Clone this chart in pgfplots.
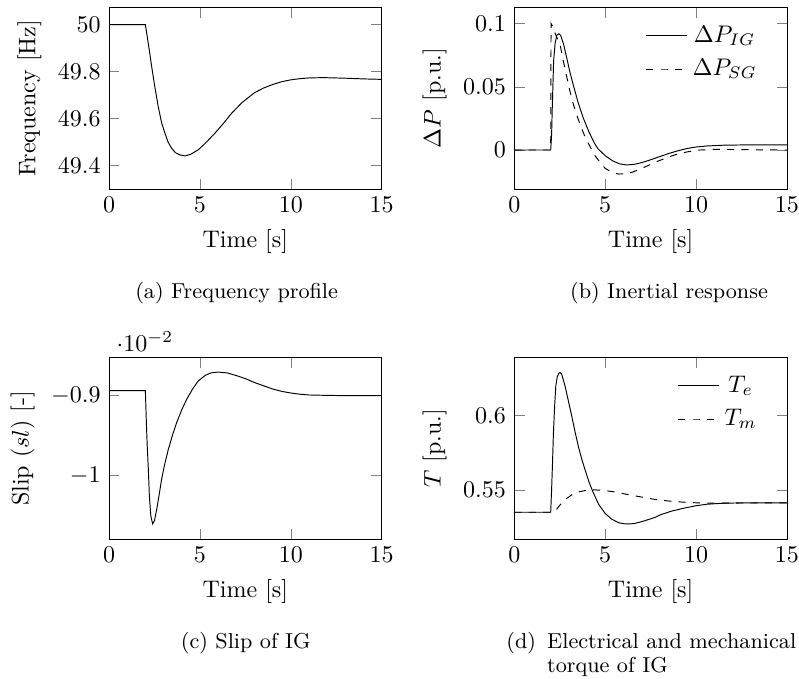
\documentclass[border=0pt]{standalone}
\usepackage{pgfplots}
\pgfplotsset{compat=1.18}
\begin{document}
\begin{tikzpicture}
\path[use as bounding box] (0,0) rectangle (332.9pt,282.5pt);
\pgfplotsset{every axis/.append style={scale only axis, anchor=south west,
  xmin=0, xmax=15, xtick={0,5,10,15}, xlabel={Time [s]},
  width=113.6pt, height=75.6pt},
  every axis legend/.append style={draw=none, fill=none, at={(0.935,0.955)}, anchor=north east,
    row sep=1.5pt}}
% (a)
\begin{axis}[at={(45.42pt,203.75pt)}, ymin=49.30, ymax=50.073,
  ytick={49.4,49.6,49.8,50}, ylabel={Frequency [Hz]}]
\addplot[black, mark=none] coordinates {(0,50) (2.0,50) (2.1,49.95) (2.2,49.90) (2.35,49.82) (2.5,49.745)
 (2.71,49.65) (2.9,49.58) (3.08,49.537) (3.25,49.50) (3.44,49.474) (3.65,49.455)
 (3.9,49.445) (4.18,49.441) (4.5,49.448) (4.91,49.467) (5.3,49.495) (5.82,49.537)
 (6.3,49.58) (6.74,49.622) (7.3,49.667) (8.0,49.71) (8.5,49.73) (9,49.745) (9.5,49.757)
 (10,49.765) (10.5,49.77) (11,49.773) (11.5,49.774) (12,49.774) (13,49.772) (14,49.769) (15,49.767)};
\end{axis}
% (b)
\begin{axis}[at={(214.3pt,203.75pt)}, ymin=-0.0308, ymax=0.1126,
  ytick={0,0.05,0.1}, yticklabels={0,0.05,0.1}, ylabel={$\Delta P$ [p.u.]}]
\addplot[black, mark=none] coordinates {(0,0) (2.0,0) (2.05,0.012) (2.08,0.03) (2.12,0.05) (2.16,0.07) (2.24,0.084)
 (2.33,0.0905) (2.45,0.092) (2.55,0.0905) (2.7,0.084) (2.88,0.073) (3.05,0.062) (3.25,0.051)
 (3.5,0.038) (3.8,0.025) (4.1,0.0145) (4.4,0.0055) (4.6,0.001) (5.0,-0.0045) (5.4,-0.0085)
 (5.8,-0.011) (6.2,-0.0118) (6.6,-0.0113) (7.0,-0.0100) (7.5,-0.0077) (8.0,-0.0052)
 (8.5,-0.0027) (9.0,-0.0006) (9.5,0.0012) (10.0,0.0024) (10.6,0.0032) (11.5,0.0038)
 (12.5,0.004) (15,0.004)};
\addlegendentry{$\Delta P_{IG}$}
\addplot[black, dashed, mark=none] coordinates {(0,0) (2.0,0) (2.02,0.1) (2.1,0.098) (2.25,0.092) (2.4,0.087)
 (2.52,0.083) (2.7,0.07) (2.88,0.058) (3.05,0.047) (3.25,0.036) (3.45,0.027) (3.62,0.02)
 (3.9,0.01) (4.17,0.0026) (4.44,-0.0045) (4.7,-0.0095) (5.0,-0.0145) (5.35,-0.0175)
 (5.73,-0.019) (6.1,-0.0188) (6.5,-0.0175) (6.9,-0.0152) (7.4,-0.012) (7.9,-0.0088)
 (8.4,-0.006) (8.9,-0.0035) (9.5,-0.0015) (10.2,0.0) (11,0.0005) (12,0.0004) (13,0.0002) (15,0.0)};
\addlegendentry{$\Delta P_{SG}$}
\end{axis}
% (c)
\begin{axis}[at={(45.42pt,57.92pt)}, ymin=-0.010788, ymax=-0.008529,
  ytick={-0.01,-0.009}, ylabel={Slip ($sl$) [-]}]
\addplot[black, mark=none] coordinates {(0,-0.00894) (2.0,-0.00894) (2.05,-0.0093) (2.1,-0.00962) (2.16,-0.0099)
 (2.22,-0.01025) (2.3,-0.0105) (2.4,-0.0106) (2.5,-0.01056) (2.62,-0.010425) (2.75,-0.01025)
 (2.89,-0.01005) (3.05,-0.00987) (3.26,-0.009675) (3.5,-0.00949) (3.72,-0.00934) (4.0,-0.00918)
 (4.27,-0.00905) (4.6,-0.00892) (4.91,-0.00882) (5.3,-0.00875) (5.6,-0.00872) (6.0,-0.00871)
 (6.5,-0.00872) (7.1,-0.00876) (7.6,-0.0088) (8.0,-0.00884) (8.5,-0.00888) (9.0,-0.00892)
 (9.5,-0.00895) (10.0,-0.00897) (10.5,-0.008985) (11,-0.008995) (12,-0.009) (13,-0.009003) (15,-0.009004)};
\end{axis}
% (d)
\begin{axis}[at={(214.3pt,57.92pt)}, ymin=0.5169, ymax=0.639,
  ytick={0.55,0.6}, ylabel={$T$ [p.u.]}]
\addplot[black, mark=none] coordinates {(0,0.5349) (2.0,0.5349) (2.05,0.55) (2.1,0.568) (2.15,0.5883) (2.22,0.607)
 (2.28,0.6198) (2.36,0.626) (2.45,0.6285) (2.52,0.6289) (2.6,0.628) (2.79,0.6198) (2.97,0.61)
 (3.16,0.5995) (3.34,0.589) (3.52,0.5793) (3.7,0.571) (3.89,0.5635) (4.1,0.5555) (4.35,0.5478)
 (4.65,0.540) (4.99,0.5342) (5.35,0.5303) (5.73,0.5279) (6.0,0.5272) (6.28,0.527) (6.6,0.5273)
 (6.92,0.5283) (7.2,0.5293) (7.75,0.5315) (8.02,0.5331) (8.6,0.5355) (9.31,0.5376) (10.0,0.5393)
 (10.6,0.5403) (11.5,0.541) (12.5,0.5412) (15,0.5412)};
\addlegendentry{$T_e$}
\addplot[black, dashed, mark=none] coordinates {(0,0.5349) (2.1,0.5349) (2.3,0.5365) (2.52,0.5399) (2.8,0.5435)
 (3.16,0.5466) (3.5,0.5485) (3.89,0.5495) (4.35,0.55) (4.8,0.5497) (5.36,0.5489) (6.0,0.5474)
 (6.83,0.5455) (7.75,0.5435) (8.76,0.5421) (9.7,0.5414) (10.6,0.541) (12,0.5411) (15,0.5412)};
\addlegendentry{$T_m$}
\end{axis}
% captions
\node[anchor=base, inner sep=0pt] at (98.6pt,158.3pt) {\small (a)\ Frequency profile};
\node[anchor=base, inner sep=0pt] at (278.75pt,158.3pt) {\small (b)\ Inertial response};
\node[anchor=base, inner sep=0pt] at (102.4pt,12.4pt) {\small (c)\ Slip of IG};
\node[anchor=base west, inner sep=0pt] at (210.8pt,12.4pt) {\small (d)};
\node[anchor=base west, inner sep=0pt] at (227.8pt,12.4pt) {\small Electrical and mechanical};
\node[anchor=base west, inner sep=0pt] at (227.8pt,2.2pt) {\small torque of IG};
\end{tikzpicture}
\end{document}
